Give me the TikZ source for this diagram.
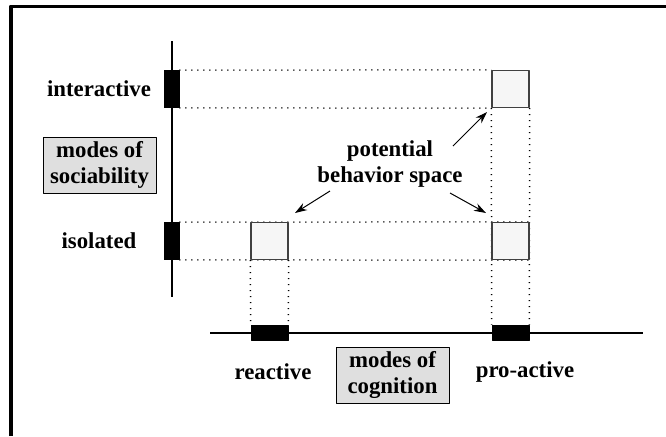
\documentclass[tikz,border=0pt]{standalone}
\usepackage{fontspec}
\setmainfont{Liberation Serif}
\usetikzlibrary{positioning,arrows.meta,backgrounds}
\begin{document}
\begin{tikzpicture}[x=0.5pt,y=-0.5pt,font=\fontsize{11.4}{13}\selectfont\bfseries,line join=round,>={Stealth[length=6pt,width=4pt]},
bar/.style={fill=black,draw=black,inner sep=0pt},
vbar/.style={bar,minimum width=7.5pt,minimum height=18.5pt},
hbar/.style={bar,minimum width=18.5pt,minimum height=7.5pt},
cell/.style={fill=gray!7,draw=black!75,line width=0.6pt,minimum size=18.5pt,inner sep=0pt},
modebox/.style={fill=gray!25,draw=black,line width=0.5pt,align=center,minimum width=56.5pt,minimum height=28pt,inner sep=2pt},
dots/.style={line width=0.75pt,dash pattern=on 0.5pt off 2.5pt},
axis/.style={line width=0.8pt}]
\useasboundingbox (0,0) rectangle (666,436);
\path
(172,41) coordinate (Ytop)
(172,297) coordinate (Ybot)
(210,333) coordinate (Xleft)
(643,333) coordinate (Xright)
(453,146) coordinate (T1) (487,112) coordinate (H1)
(450,193) coordinate (T2) (486,213) coordinate (H2)
(330,191) coordinate (T3) (295,213) coordinate (H3)
;
% frame
\draw[line width=1.5pt] (11,436) -- (11,6) -- (666,6);
% axes
\draw[axis] (Ytop) -- (Ybot);
\draw[axis] (Xleft) -- (Xright);
% marks on the axes
\node[vbar] (barI) at (171.5,89) {};
\node[vbar] (barS) at (171.5,241) {};
\node[hbar] (barR) at (269.5,332.5) {};
\node[hbar] (barP) at (510.5,332.5) {};
% cells
\node[cell] (boxI) at (510.5,89) {};
\node[cell] (boxSR) at (269.5,241) {};
\node[cell] (boxSP) at (510.5,241) {};
\begin{scope}[on background layer]
\foreach \a/\b in {barI.north east/boxI.north west, barI.south east/boxI.south west,
  barS.north east/boxSP.north east, barS.south east/boxSP.south east,
  boxSR.south west/barR.north west, boxSR.south east/barR.north east,
  boxI.south west/barP.north west, boxI.south east/barP.north east}
  \draw[dots] (\a) -- (\b);
\end{scope}
% labels
\node (interactive) at (99,89) {interactive};
\node (isolated) at (99,241) {isolated};
\node (reactive) at (273,372) {reactive};
\node (proactive) at (525,372) {pro-active};
\node[modebox] (sociability) at (99.5,165) {modes of\\sociability};
\node[modebox] (cognition) at (392.5,375) {modes of\\cognition};
\node[align=center] (space) at (390,164) {potential\\behavior space};
% arrows
\draw[->,line width=0.5pt] (T1) -- (H1);
\draw[->,line width=0.5pt] (T2) -- (H2);
\draw[->,line width=0.5pt] (T3) -- (H3);
\end{tikzpicture}
\end{document}
